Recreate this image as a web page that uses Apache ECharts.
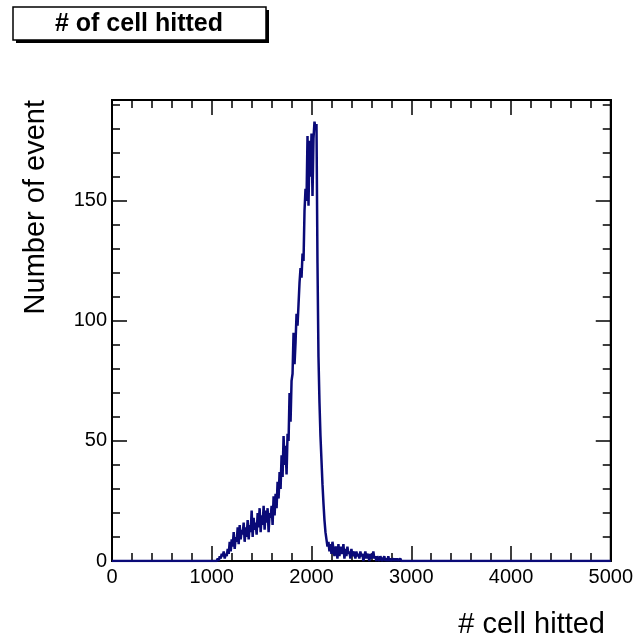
<!DOCTYPE html>
<html><head><meta charset="utf-8">
<script src="https://cdn.jsdelivr.net/npm/echarts@6/dist/echarts.min.js"></script>
<style>html,body{margin:0;padding:0;background:#fff}#c{width:636px;height:640px}</style>
</head><body><div id="c"></div>
<script>
const titleText = '# of cell hitted';
const xTitle = '# cell hitted';
const yTitle = 'Number of event';
const xRange = [0, 5000];
const yRange = [0, 192];
const xMajor = 1000;
const yMajor = 50;
const yMinor = 10;
const binStart = 1050;
const binWidth = 10;
const counts = [
  0,1,0,2,1,3,2,4,1,3,
  2,5,3,8,4,9,6,12,5,10,
  8,14,7,15,9,13,11,16,8,14,
  10,17,9,15,12,21,10,18,13,16,
  11,20,14,22,12,19,15,23,13,21,
  16,22,12,20,18,23,15,27,19,28,
  22,33,26,37,30,44,35,52,40,48,
  36,53,50,70,58,75,78,95,82,91,
  103,98,107,116,122,118,128,125,146,155,
  150,177,148,175,160,178,152,176,183,180,
  182,124,85,66,52,42,32,24,17,12,
  9,6,8,4,7,3,8,5,2,6,
  5,1,7,2,6,3,4,7,1,5,
  2,6,3,4,1,5,2,4,3,1,
  4,2,3,1,4,2,3,0,2,4,
  1,3,2,0,3,1,2,4,1,2,
  0,2,1,0,2,1,0,1,2,0,
  1,0,2,0,1,0,0,1,0,1,
  0,1,0,0,1
];

const pts = [[xRange[0], 0]];
counts.forEach((c, i) => pts.push([binStart + i * binWidth, c]));
pts.push([binStart + counts.length * binWidth, 0]);
pts.push([xRange[1], 0]);

const FONT = '"Liberation Sans", Arial, Helvetica, sans-serif';
const black = '#000';
function xAx(pos, labels) {
  return {
    type: 'value', min: xRange[0], max: xRange[1], interval: xMajor, position: pos,
    axisLine: { show: true, onZero: false, lineStyle: { color: black, width: 2 } },
    axisTick: { show: true, inside: true, length: 15, lineStyle: { color: black, width: 1.5 } },
    minorTick: { show: true, splitNumber: 5, length: 8, lineStyle: { color: black, width: 1.5 } },
    axisLabel: { show: labels, color: black, fontSize: 20, fontFamily: FONT, margin: 6,
      formatter: v => String(v) },
    splitLine: { show: false }, minorSplitLine: { show: false }
  };
}
function yAx(pos, interval, len, labels, line) {
  return {
    type: 'value', min: yRange[0], max: yRange[1], interval: interval, position: pos,
    axisLine: { show: line, onZero: false, lineStyle: { color: black, width: 2 } },
    axisTick: { show: true, inside: true, length: len, lineStyle: { color: black, width: 1.5 } },
    axisLabel: { show: labels, color: black, fontSize: 20, fontFamily: FONT, margin: 5,
      showMaxLabel: false,
      formatter: v => (v % yMajor === 0 ? String(v) : '') },
    splitLine: { show: false }
  };
}

const chart = echarts.init(document.getElementById('c'), null, { renderer: 'canvas' });
chart.setOption({
  animation: false,
  backgroundColor: '#fff',
  grid: { left: 112, right: 24, top: 100, bottom: 79, show: true, borderColor: black, borderWidth: 2, backgroundColor: 'transparent' },
  xAxis: [xAx('bottom', true), xAx('top', false)],
  yAxis: [
    yAx('left', yMajor, 15, true, true),
    yAx('left', yMinor, 8, false, false),
    yAx('right', yMajor, 15, false, true),
    yAx('right', yMinor, 8, false, false)
  ],
  series: [{
    type: 'line', step: 'end', xAxisIndex: 0, yAxisIndex: 0,
    data: pts, showSymbol: false, symbol: 'none',
    lineStyle: { color: '#0a0a78', width: 2.5 }, clip: true, z: 1
  }],
  graphic: [
    { type: 'rect', shape: { x: 16, y: 10, width: 253, height: 33 },
      style: { fill: '#000', stroke: null } },
    { type: 'rect', shape: { x: 13, y: 7, width: 253, height: 33 },
      style: { fill: '#fff', stroke: black, lineWidth: 1.5 } },
    { type: 'text', x: 139, y: 24,
      style: { text: titleText, align: 'center', verticalAlign: 'middle', font: 'bold 25px ' + FONT, fill: black } },
    { type: 'text', x: 605, y: 625,
      style: { text: xTitle, align: 'right', verticalAlign: 'middle', font: '29px ' + FONT, fill: black } },
    { type: 'text', x: 36, y: 100, rotation: Math.PI / 2,
      style: { text: yTitle, align: 'right', verticalAlign: 'middle', font: '29px ' + FONT, fill: black } }
  ]
});
</script>
</body></html>
